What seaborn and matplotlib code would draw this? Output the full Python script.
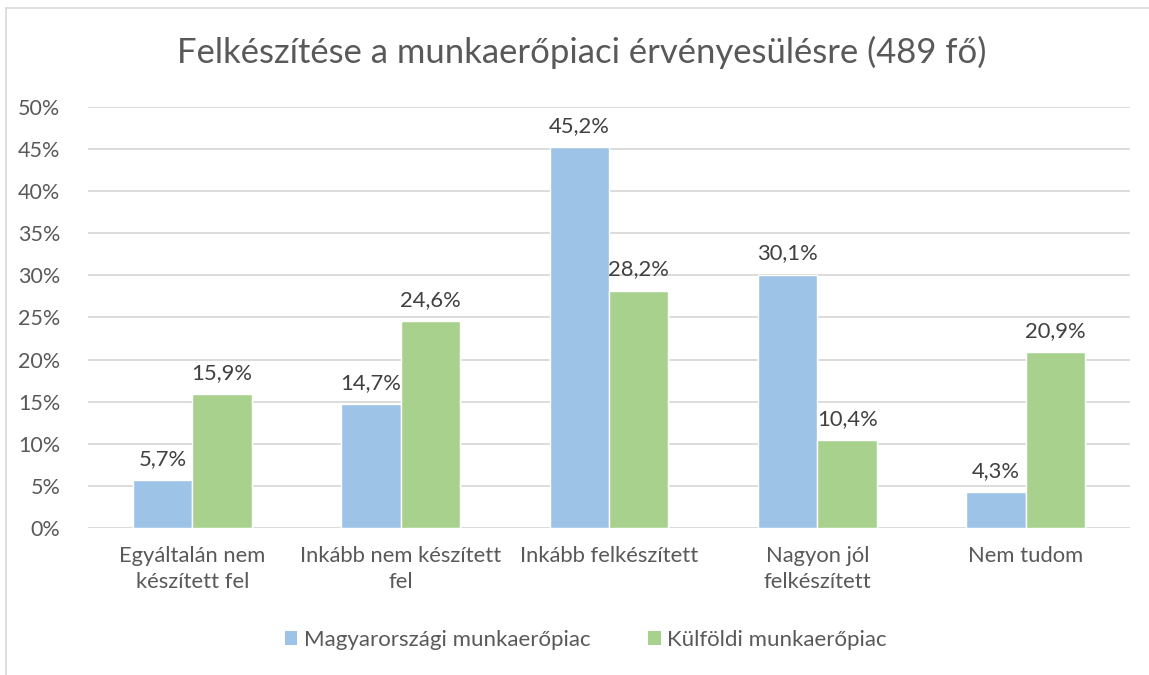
import matplotlib
matplotlib.use("Agg")
import matplotlib.pyplot as plt
import seaborn as sns
import pandas as pd
from matplotlib.lines import Line2D
from matplotlib.patches import Patch

categories = ["Egyáltalán nem\nkészített fel", "Inkább nem készített\nfel",
              "Inkább felkészített", "Nagyon jól\nfelkészített", "Nem tudom"]
series_names = ["Magyarországi munkaerőpiac", "Külföldi munkaerőpiac"]
hungary = [5.7, 14.7, 45.2, 30.1, 4.3]
abroad = [15.9, 24.6, 28.2, 10.4, 20.9]
y_ticks = [0, 5, 10, 15, 20, 25, 30, 35, 40, 45, 50]

colors = ["#9DC3E6", "#A9D18E"]
text_color = "#595959"

df = pd.DataFrame({
    "cat": categories * 2,
    "series": [series_names[0]] * 5 + [series_names[1]] * 5,
    "value": hungary + abroad,
})

sns.set_style("white")
plt.rcParams["font.family"] = ["Lato", "DejaVu Sans"]

fig = plt.figure(figsize=(11.49, 6.75), dpi=100)
ax = fig.add_axes([0.0766, 0.2178, 0.9069, 0.6237])

sns.barplot(data=df, x="cat", y="value", hue="series", palette=colors,
            width=0.57, ax=ax, legend=False, saturation=1)

for cont in ax.containers:
    ax.bar_label(cont, labels=[f"{v:.1f}%".replace(".", ",") for v in cont.datavalues],
                 padding=8, fontsize=15.8, color="#404040")

ax.set_ylim(0, 50)
ax.set_xlim(-0.5, 4.5)
ax.set_yticks(y_ticks)
ax.set_yticklabels([f"{t}%" for t in y_ticks], fontsize=15.5, color=text_color)
ax.tick_params(axis="x", labelsize=15.8, labelcolor=text_color, length=0, pad=13)
ax.tick_params(axis="y", length=0, pad=20)
for lbl in ax.get_xticklabels():
    lbl.set_linespacing(1.4)
ax.set_xlabel("")
ax.set_ylabel("")
ax.yaxis.grid(True, color="#D9D9D9", linewidth=1.3)
ax.set_axisbelow(True)
for s in ax.spines.values():
    s.set_visible(False)

fig.text(0.506, 0.922, "Felkészítése a munkaerőpiaci érvényesülésre (489 fő)",
         ha="center", va="center", fontsize=24.9, color=text_color)

handles = [Patch(facecolor=c, edgecolor="none") for c in colors]
fig.legend(handles, series_names, loc="center", bbox_to_anchor=(0.51, 0.052),
           ncol=2, frameon=False, fontsize=16, labelcolor=text_color,
           handlelength=0.55, handleheight=0.55, handletextpad=0.3, columnspacing=2.6)

# chart border (left and top visible in screenshot)
fig.add_artist(Line2D([0.0055, 0.0055], [0, 0.988], color="#D9D9D9", lw=1.2,
                      transform=fig.transFigure))
fig.add_artist(Line2D([0.0055, 1], [0.988, 0.988], color="#D9D9D9", lw=1.2,
                      transform=fig.transFigure))

fig.savefig("out.png", dpi=100)
